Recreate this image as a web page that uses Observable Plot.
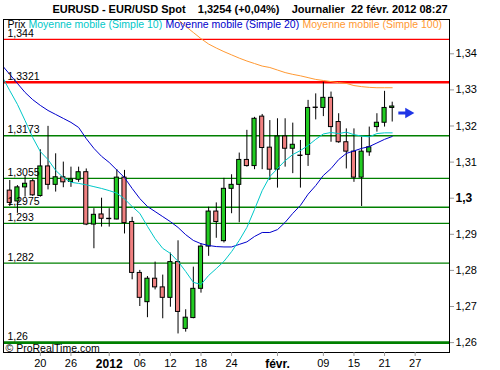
<!DOCTYPE html>
<html><head><meta charset="utf-8">
<script src="https://cdn.jsdelivr.net/npm/d3@7"></script>
<script src="https://cdn.jsdelivr.net/npm/@observablehq/plot@0.6"></script>
<style>
html,body{margin:0;padding:0;background:#fff;}
body{width:500px;height:370px;overflow:hidden;font-family:"Liberation Sans",Arial,sans-serif;}
#title{height:18px;line-height:18px;font-size:11px;font-weight:bold;text-align:center;white-space:pre;color:#000;}
#chart svg{display:block;}
</style></head><body>
<div id="title">EURUSD - EUR/USD Spot    1,3254 (+0,04%)    Journalier  22 févr. 2012 08:27</div>
<div id="chart"></div>
<script>
// ---------- data ----------
const dates = ["2011-12-14","2011-12-15","2011-12-16","2011-12-19","2011-12-20","2011-12-21","2011-12-22","2011-12-23","2011-12-26","2011-12-27","2011-12-28","2011-12-29","2011-12-30",
"2012-01-02","2012-01-03","2012-01-04","2012-01-05","2012-01-06","2012-01-09","2012-01-10","2012-01-11","2012-01-12","2012-01-13","2012-01-16","2012-01-17","2012-01-18","2012-01-19","2012-01-20","2012-01-23","2012-01-24","2012-01-25","2012-01-26","2012-01-27","2012-01-30","2012-01-31",
"2012-02-01","2012-02-02","2012-02-03","2012-02-06","2012-02-07","2012-02-08","2012-02-09","2012-02-10","2012-02-13","2012-02-14","2012-02-15","2012-02-16","2012-02-17","2012-02-20","2012-02-21","2012-02-22"];
const open  = [1.3021,1.2991,1.3030,1.3047,1.3006,1.3088,1.3037,1.3058,1.3045,1.3051,1.3072,1.2927,1.2955,1.2943,1.2941,1.3057,1.2934,1.2793,1.2712,1.2777,1.2753,1.2724,1.2823,1.2638,1.2668,1.2749,1.2866,1.2963,1.2881,1.3026,1.3037,1.3106,1.3089,1.3226,1.3140,1.3079,1.3171,1.3137,1.3118,1.3120,1.3251,1.3250,1.3278,1.3211,1.3155,1.3129,1.3057,1.3127,1.3197,1.3209,1.3250];
const high  = [1.3049,1.3035,1.3060,1.3052,1.3134,1.3199,1.3123,1.3100,1.3086,1.3086,1.3081,1.2971,1.3000,1.2971,1.3079,1.3077,1.2947,1.2800,1.2783,1.2823,1.2787,1.2848,1.2882,1.2691,1.2809,1.2874,1.2975,1.2987,1.3055,1.3065,1.3125,1.3188,1.3224,1.3232,1.3215,1.3220,1.3220,1.3208,1.3160,1.3271,1.3289,1.3321,1.3294,1.3234,1.3192,1.3192,1.3169,1.3197,1.3234,1.3296,1.3266];
const low   = [1.2977,1.2958,1.3003,1.3005,1.3003,1.3023,1.3017,1.3029,1.3030,1.3044,1.2924,1.2860,1.2920,1.2920,1.2940,1.2901,1.2774,1.2700,1.2669,1.2746,1.2666,1.2698,1.2624,1.2629,1.2666,1.2737,1.2839,1.2889,1.2876,1.2957,1.2932,1.3086,1.3079,1.3079,1.3049,1.3028,1.3086,1.3068,1.3028,1.3088,1.3217,1.3226,1.3155,1.3152,1.3081,1.3044,1.2977,1.3116,1.3183,1.3197,1.3211];
const close = [1.2987,1.3030,1.3040,1.3008,1.3088,1.3037,1.3058,1.3044,1.3052,1.3072,1.2927,1.2954,1.2943,1.2942,1.3057,1.2931,1.2793,1.2724,1.2777,1.2753,1.2724,1.2823,1.2685,1.2669,1.2749,1.2866,1.2963,1.2934,1.3026,1.3037,1.3106,1.3089,1.3220,1.3139,1.3079,1.3171,1.3137,1.3148,1.3117,1.3250,1.3250,1.3278,1.3197,1.3155,1.3129,1.3057,1.3129,1.3141,1.3209,1.3250,1.3254];

// moving averages, first value on 2011-12-13
const maDates = ["2011-12-13", ...dates];
const ma10 = [1.3337,1.3298,1.3260,1.3215,1.3168,1.3129,1.3107,1.3077,1.3057,1.3044,1.3041,1.3037,1.3032,1.3027,1.3021,1.3014,1.2998,1.2977,1.2958,1.2922,1.2888,1.2861,1.2847,1.2825,1.2797,1.2767,1.2761,1.2786,1.2805,1.2825,1.2852,1.2883,1.2919,1.2969,1.3021,1.3060,1.3082,1.3104,1.3121,1.3132,1.3146,1.3163,1.3178,1.3182,1.3179,1.3183,1.3176,1.3172,1.3170,1.3179,1.3181,1.3181];
const ma20 = [1.3368,1.3343,1.3318,1.3293,1.3273,1.3257,1.3243,1.3232,1.3221,1.3210,1.3196,1.3165,1.3138,1.3116,1.3099,1.3078,1.3057,1.3027,1.2999,1.2977,1.2963,1.2949,1.2935,1.2919,1.2899,1.2883,1.2874,1.2869,1.2866,1.2865,1.2865,1.2872,1.2879,1.2894,1.2905,1.2905,1.2913,1.2933,1.2958,1.2980,1.3011,1.3035,1.3063,1.3082,1.3107,1.3124,1.3131,1.3138,1.3143,1.3153,1.3163,1.3171];
// MA100, first value on 2012-01-10 (earlier values are above the chart)
const ma100Start = "2012-01-10";
const ma100 = [1.3553,1.3534,1.3514,1.3495,1.3476,1.3459,1.3442,1.3427,1.3416,1.3406,1.3397,1.3388,1.3380,1.3373,1.3366,1.3362,1.3355,1.3348,1.3343,1.3339,1.3334,1.3329,1.3326,1.3323,1.3320,1.3318,1.3312,1.3309,1.3307,1.3306,1.3306,1.3306];

// horizontal levels
const levels      = [1.344, 1.3321, 1.3173, 1.3055, 1.2975, 1.293, 1.282, 1.26];
const levelLabels = ["1,344","1,3321","1,3173","1,3055","1,2975","1,293","1,282","1,26"];
const levelKind   = ["minor","major","minor","minor","minor","minor","minor","major"];

// axes
const yTicks      = [1.26,1.27,1.28,1.29,1.30,1.31,1.32,1.33,1.34];
const yTickLabels = ["1,26","1,27","1,28","1,29","1,3","1,31","1,32","1,33","1,34"];
const yTickStrong = [1.30];
const xTickDates  = ["2011-12-20","2011-12-26","2012-01-02","2012-01-06","2012-01-12","2012-01-18","2012-01-24","2012-02-01","2012-02-09","2012-02-15","2012-02-21","2012-02-27"];
const xTickLabels = ["20","26","2012","06","12","18","24","févr.","09","15","21","27"];
const xTickStrong = ["2012","févr."];

const legendLabels = ["Prix","Moyenne mobile (Simple 10)","Moyenne mobile (Simple 20)","Moyenne mobile (Simple 100)"];
const copyright = "© ProRealTime.com";

// projection arrow (trading-day offsets after the last bar, price)
const arrowFrom = 0.8, arrowTo = 2.1, arrowPrice = 1.3236;

// ---------- helpers ----------
const base = dates[0];
function tIndex(s){
  const d = Date.parse(s+"T00:00:00Z"), b = Date.parse(base+"T00:00:00Z");
  const sign = d >= b ? 1 : -1;
  let t = Math.min(d,b), e = Math.max(d,b), n = 0;
  for (; t < e; t += 864e5){ const w = new Date(t).getUTCDay(); if (w !== 0 && w !== 6) n++; }
  return sign*n;
}
const candles = dates.map((d,i)=>({x:tIndex(d), open:open[i], high:high[i], low:low[i], close:close[i]}));
const up = candles.filter(d=>d.close>=d.open), down = candles.filter(d=>d.close<d.open);
const ma10Rows = ma10.map((v,i)=>({x:tIndex(maDates[i]), v}));
const ma20Rows = ma20.map((v,i)=>({x:tIndex(maDates[i]), v}));
const m0 = tIndex(ma100Start);
const ma100Rows = ma100.map((v,i)=>({x:m0+i, v}));
const lastClose = close[close.length-1];
const lastX = tIndex(dates[dates.length-1]);
const levelRows = levels.map((v,i)=>({v, label:levelLabels[i], kind:levelKind[i], above: v>lastClose}));
const xTickRows = xTickDates.map((d,i)=>({x:tIndex(d), label:xTickLabels[i]}));
const xNormal = xTickRows.filter(d=>!xTickStrong.includes(d.label));
const xBold = xTickRows.filter(d=>xTickStrong.includes(d.label));
const xLab = new Map(xTickRows.map(d=>[d.x,d.label]));
const yLab = v => yTickLabels[yTicks.findIndex(t=>Math.abs(t-v)<1e-9)];

const GREEN="#22cc22", RED="#f08080", LVL_G="#008000", LVL_R="#ff0000";
const C10="#00c8c8", C20="#0000cc", C100="#ff9933", ARROW="#1f35e6";
const legendColors=["#000",C10,C20,C100];
const legendDx=[4,25,162,299];

const marks = [];
for (const L of levelRows){
  marks.push(Plot.ruleY([L.v], {stroke: L.above?LVL_R:LVL_G, strokeWidth: L.kind==="major"?2.6:1.3}));
}
marks.push(
  Plot.ruleX(candles, {x:"x", y1:"low", y2:"high", stroke:"#000", strokeWidth:1}),
  Plot.rect(up,   {x1:d=>d.x-0.27, x2:d=>d.x+0.27, y1:"open", y2:"close", fill:GREEN, stroke:"#000", strokeWidth:1}),
  Plot.rect(down, {x1:d=>d.x-0.27, x2:d=>d.x+0.27, y1:"open", y2:"close", fill:RED, stroke:"#000", strokeWidth:1}),
  Plot.line(ma100Rows, {x:"x", y:"v", stroke:C100, strokeWidth:1, clip:true}),
  Plot.line(ma20Rows, {x:"x", y:"v", stroke:C20, strokeWidth:1, clip:true}),
  Plot.line(ma10Rows, {x:"x", y:"v", stroke:C10, strokeWidth:1, clip:true}),
  Plot.link([{a:lastX+arrowFrom, b:lastX+arrowTo, p:arrowPrice}], {x1:"a", x2:"b", y1:"p", y2:"p", stroke:ARROW, strokeWidth:3}),
  Plot.dot([{a:lastX+arrowTo, p:arrowPrice}], {x:"a", y:"p", symbol:"triangle", rotate:90, r:3.9, fill:ARROW, stroke:"none"}),
  Plot.text(levelRows, {y:"v", text:"label", frameAnchor:"left", textAnchor:"start", lineAnchor:"middle", dx:4, dy:-6, fill:"#000", fontSize:10.5}),
  Plot.text([copyright], {text:d=>d, frameAnchor:"bottom-left", textAnchor:"start", lineAnchor:"bottom", dx:2, dy:-1, fill:"#000", fontSize:10.5}),
  ...legendLabels.map((t,i)=>Plot.text([t], {text:d=>d, frameAnchor:"top-left", textAnchor:"start", lineAnchor:"top", dx:legendDx[i], dy:1.5, fill:legendColors[i], fontSize:10.5})),
  Plot.frame({stroke:"#000", strokeWidth:1}),
  Plot.axisY(yTicks.filter(t=>!yTickStrong.includes(t)), {anchor:"right", tickSize:4, tickPadding:2, stroke:"#999", fill:"#000", fontSize:11, tickFormat:yLab, label:null}),
  Plot.axisY(yTickStrong, {anchor:"right", tickSize:4, tickPadding:2, stroke:"#999", fill:"#000", fontSize:12, fontWeight:"bold", tickFormat:yLab, label:null}),
  Plot.axisX(xNormal.map(d=>d.x), {anchor:"bottom", tickSize:4, tickPadding:3, stroke:"#999", fill:"#000", fontSize:11, tickFormat:v=>xLab.get(v), label:null}),
  Plot.axisX(xBold.map(d=>d.x), {anchor:"bottom", tickSize:4, tickPadding:2.5, stroke:"#999", fill:"#000", fontSize:12, fontWeight:"bold", tickFormat:v=>xLab.get(v), label:null})
);

const chart = Plot.plot({
  width:500, height:352,
  marginTop:1, marginBottom:18, marginLeft:3, marginRight:51,
  x:{type:"linear", domain:[-0.82, 57.49]},
  y:{type:"linear", domain:[1.25726, 1.3495]},
  style:{fontFamily:"'Liberation Sans', Arial, sans-serif", background:"#fff", overflow:"visible"},
  marks
});
document.getElementById("chart").appendChild(chart);
</script>
</body></html>
